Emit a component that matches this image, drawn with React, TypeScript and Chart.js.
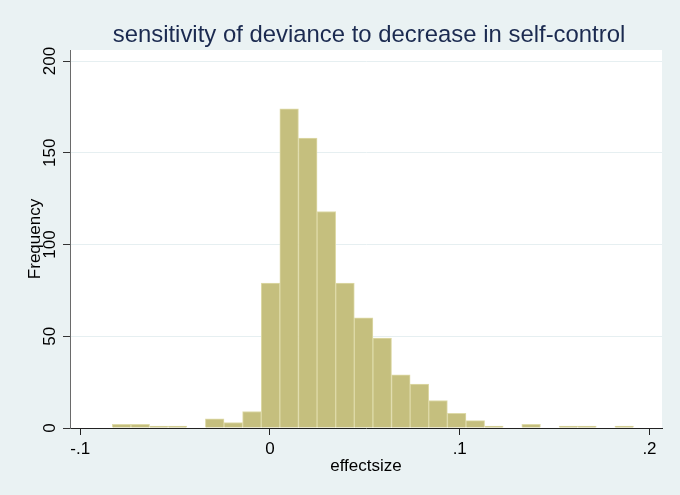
import React, { useEffect, useRef } from 'react';
import { Chart, registerables } from 'chart.js';

Chart.register(...registerables);

// Histogram definition (bins)
const binStart = -0.0831;
const binWidth = 0.00981;
const counts = [2, 2, 1, 1, 0, 5, 3, 9, 79, 174, 158, 118, 79, 60, 49, 29, 24, 15, 8, 4, 1, 0, 2, 0, 1, 1, 0, 1];

const xTickValues = [-0.1, 0, 0.1, 0.2];
const xTickLabels = ['-.1', '0', '.1', '.2'];
const yTickValues = [0, 50, 100, 150, 200];
const yTickLabels = ['0', '50', '100', '150', '200'];

const titleText = 'sensitivity of deviance to decrease in self-control';
const xTitle = 'effectsize';
const yTitle = 'Frequency';

const FONT = '"Liberation Sans", Arial, Helvetica, sans-serif';

const stataPlugin = {
  id: 'stataText',
  beforeDraw(chart: any) {
    const { ctx, chartArea: a } = chart;
    ctx.save();
    ctx.fillStyle = '#EAF2F3';
    ctx.fillRect(0, 0, chart.width, chart.height);
    ctx.fillStyle = '#FFFFFF';
    ctx.fillRect(a.left, a.top, a.right - a.left, a.bottom - a.top);
    ctx.restore();
  },
  afterDraw(chart: any) {
    const { ctx, chartArea: a } = chart;
    const xs = chart.scales.x;
    const ys = chart.scales.y;
    const cx = (a.left + a.right) / 2;
    ctx.save();
    ctx.textAlign = 'center';
    ctx.textBaseline = 'alphabetic';
    ctx.fillStyle = '#1B2A50';
    ctx.font = `23.9px ${FONT}`;
    ctx.fillText(titleText, cx + 3, 42);

    ctx.fillStyle = '#000000';
    ctx.font = `17px ${FONT}`;
    xTickValues.forEach((v, i) => {
      ctx.fillText(xTickLabels[i], xs.getPixelForValue(v), 454);
    });
    ctx.fillText(xTitle, cx, 471);

    yTickValues.forEach((v, i) => {
      ctx.save();
      ctx.translate(55, ys.getPixelForValue(v));
      ctx.rotate(-Math.PI / 2);
      ctx.fillText(yTickLabels[i], 0, 0);
      ctx.restore();
    });

    ctx.save();
    ctx.translate(39.5, (a.top + a.bottom) / 2);
    ctx.rotate(-Math.PI / 2);
    ctx.fillText(yTitle, 0, 0);
    ctx.restore();
    ctx.restore();
  },
};

export default function App() {
  const ref = useRef<HTMLCanvasElement | null>(null);

  useEffect(() => {
    if (!ref.current) return;
    const data = counts.map((c, i) => ({ x: binStart + (i + 0.5) * binWidth, y: c }));
    const chart = new Chart(ref.current, {
      type: 'bar',
      data: {
        datasets: [
          {
            data: data as any,
            backgroundColor: '#C5BF7E',
            borderColor: '#DEDAA8',
            borderWidth: 1,
            borderSkipped: 'start',
            barPercentage: 1,
            categoryPercentage: 1,
          },
        ],
      },
      options: {
        animation: false,
        responsive: false,
        devicePixelRatio: 1,
        layout: { padding: { top: 50, right: 18, left: 0, bottom: 0 } },
        plugins: {
          legend: { display: false },
          title: { display: false },
          tooltip: { enabled: false },
        },
        scales: {
          x: {
            type: 'linear',
            offset: false,
            min: -0.1054,
            max: 0.2066,
            afterBuildTicks: (s: any) => {
              s.ticks = xTickValues.map((v) => ({ value: v }));
            },
            afterFit: (s: any) => {
              s.height = 67;
            },
            ticks: { display: false },
            grid: {
              offset: false,
              drawOnChartArea: false,
              drawTicks: true,
              tickLength: 7,
              tickColor: '#222222',
              tickWidth: 1,
            },
            border: { display: true, color: '#222222', width: 1 },
          },
          y: {
            type: 'linear',
            min: 0,
            max: 206,
            afterBuildTicks: (s: any) => {
              s.ticks = yTickValues.map((v) => ({ value: v }));
            },
            afterFit: (s: any) => {
              s.width = 70;
            },
            ticks: { display: false },
            grid: {
              drawOnChartArea: true,
              color: (c: any) => (c.tick && c.tick.value === 0 ? 'rgba(0,0,0,0)' : '#E6EFF1'),
              lineWidth: 1,
              drawTicks: true,
              tickLength: 7,
              tickColor: '#333333',
              tickWidth: 1,
            },
            border: { display: true, color: '#6A6A6A', width: 1 },
          },
        },
      },
      plugins: [stataPlugin],
    });
    return () => chart.destroy();
  }, []);

  return (
    <div style={{ position: 'fixed', left: 0, top: 0, width: 680, height: 495, background: '#EAF2F3' }}>
      <canvas ref={ref} width={680} height={495} style={{ width: 680, height: 495, display: 'block' }} />
    </div>
  );
}
